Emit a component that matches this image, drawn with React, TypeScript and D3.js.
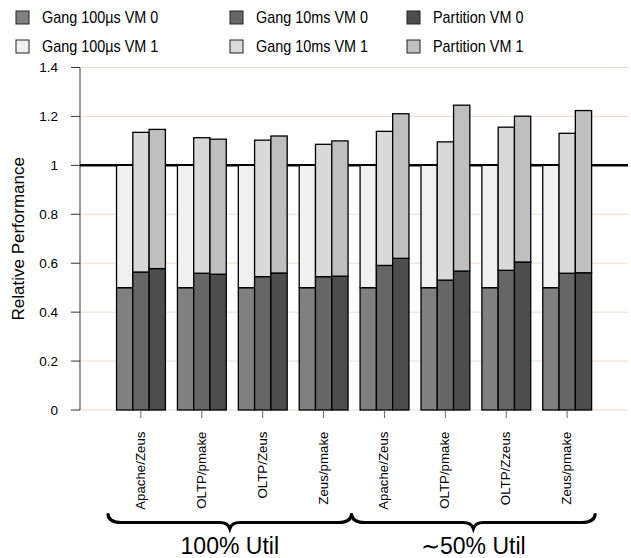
import React from "react";
import * as d3 from "d3";

// Workload pairs along the x axis (two utilisation regimes of four pairs each)
const categories = [
  "Apache/Zeus", "OLTP/pmake", "OLTP/Zeus", "Zeus/pmake",
  "Apache/Zeus", "OLTP/pmake", "OLTP/Zzeus", "Zeus/pmake",
];
const regimes = ["100% Util", "\u223C50% Util"];

// Stacked values per scheduling scheme: VM 0 at the bottom, VM 1 stacked on top
const gang100usVM0 = [0.5, 0.5, 0.5, 0.5, 0.5, 0.5, 0.5, 0.5];
const gang100usVM1 = [0.5, 0.5, 0.5, 0.5, 0.5, 0.5, 0.5, 0.5];
const gang10msVM0 = [0.564, 0.559, 0.545, 0.545, 0.591, 0.531, 0.571, 0.559];
const gang10msVM1 = [0.571, 0.554, 0.558, 0.541, 0.548, 0.565, 0.585, 0.572];
const partitionVM0 = [0.578, 0.555, 0.56, 0.547, 0.62, 0.568, 0.605, 0.561];
const partitionVM1 = [0.569, 0.552, 0.56, 0.553, 0.591, 0.678, 0.596, 0.663];

const yTicks = [0, 0.2, 0.4, 0.6, 0.8, 1, 1.2, 1.4];

const schemes = [
  { name: "Gang 100\u00B5s", vm0: gang100usVM0, vm1: gang100usVM1, c0: "#808080", c1: "#f0f0f0" },
  { name: "Gang 10ms", vm0: gang10msVM0, vm1: gang10msVM1, c0: "#666666", c1: "#d9d9d9" },
  { name: "Partition", vm0: partitionVM0, vm1: partitionVM1, c0: "#4d4d4d", c1: "#bfbfbf" },
];

const W = 631;
const H = 558;
const FONT = "'Liberation Sans', Arial, Helvetica, sans-serif";

export default function App() {
  // index units: groups sit at 0..7, axis spans one slot beyond on each side
  const x = d3.scaleLinear().domain([-1, 8]).range([80, 628]);
  const y = d3.scaleLinear().domain([0, 1.4]).range([410, 67.5]);
  const barW = 0.2675;
  const groupHalf = 0.4;

  const legendCols = [16, 230, 407];
  const legendRows = [11, 40];

  const bracePath = (i0: number, i1: number) => {
    const x0 = x(i0);
    const x1 = x(i1);
    const m = (x0 + x1) / 2;
    const y0 = 522.5;
    const p = d3.path();
    p.moveTo(x0, y0 - 8);
    p.quadraticCurveTo(x0 + 1, y0, x0 + 13, y0);
    p.lineTo(m - 10, y0);
    p.quadraticCurveTo(m - 2, y0, m, y0 + 6);
    p.quadraticCurveTo(m + 2, y0, m + 10, y0);
    p.lineTo(x1 - 13, y0);
    p.quadraticCurveTo(x1 - 1, y0, x1, y0 - 8);
    return p.toString();
  };

  return (
    <svg
      width={W}
      height={H}
      style={{ position: "absolute", left: 0, top: 0, background: "#fff" }}
      fontFamily={FONT}
    >
      {/* legend */}
      {schemes.map((s, ci) =>
        [0, 1].map((vm) => (
          <g key={`lg-${ci}-${vm}`}>
            <rect
              x={legendCols[ci]}
              y={legendRows[vm]}
              width={13}
              height={13}
              fill={vm === 0 ? s.c0 : s.c1}
              stroke="#222"
              strokeWidth={1}
            />
            <text
              transform={`translate(${legendCols[ci] + 26},${legendRows[vm] + 11.5}) scale(0.9,1)`}
              fontSize={16}
              fill="#000"
            >
              {`${s.name} VM ${vm}`}
            </text>
          </g>
        ))
      )}

      {/* grid */}
      {yTicks.map((t) => (
        <line key={`g-${t}`} x1={x(-1)} x2={x(8)} y1={y(t)} y2={y(t)} stroke="#f0dccd" strokeWidth={1} />
      ))}

      {/* y axis */}
      <line x1={80} x2={80} y1={y(1.4)} y2={y(0)} stroke="#777" strokeWidth={1.5} />
      {yTicks.map((t) => (
        <g key={`yt-${t}`}>
          <line x1={71} x2={80} y1={y(t)} y2={y(t)} stroke="#333" strokeWidth={1} />
          <text x={58} y={y(t)} dy="0.36em" textAnchor="end" fontSize={13.5}>
            {d3.format("~g")(t)}
          </text>
        </g>
      ))}
      <text
        transform={`translate(24,${y(0.7)}) rotate(-90)`}
        textAnchor="middle"
        fontSize={17}
      >
        Relative Performance
      </text>

      {/* reference line at 1 */}
      <line x1={x(-1)} x2={x(8)} y1={y(1)} y2={y(1)} stroke="#000" strokeWidth={2.5} />

      {/* bars */}
      {categories.map((_, gi) =>
        schemes.map((s, si) => {
          const bx = x(gi - groupHalf + si * barW);
          const bw = x(barW) - x(0);
          const v0 = s.vm0[gi];
          const v1 = s.vm1[gi];
          return (
            <g key={`b-${gi}-${si}`}>
              <rect x={bx} y={y(v0)} width={bw} height={y(0) - y(v0)} fill={s.c0} stroke="#000" strokeWidth={1.3} />
              <rect x={bx} y={y(v0 + v1)} width={bw} height={y(v0) - y(v0 + v1)} fill={s.c1} stroke="#000" strokeWidth={1.3} />
            </g>
          );
        })
      )}

      {/* x ticks and labels */}
      {categories.map((c, gi) => (
        <g key={`xt-${gi}`}>
          <line x1={x(gi)} x2={x(gi)} y1={410} y2={418} stroke="#666" strokeWidth={1} />
          <text
            transform={`translate(${x(gi) + 4},431.5) rotate(-90)`}
            textAnchor="end"
            fontSize={13.3}
          >
            {c}
          </text>
        </g>
      ))}

      {/* regime braces */}
      {regimes.map((r, ri) => {
        const i0 = ri * 4 - 0.54;
        const i1 = ri * 4 + 3.46;
        return (
          <g key={`br-${ri}`}>
            <path d={bracePath(i0, i1)} fill="none" stroke="#000" strokeWidth={3.2} strokeLinecap="round" />
            <text x={(x(i0) + x(i1)) / 2} y={554} textAnchor="middle" fontSize={23}>
              {r}
            </text>
          </g>
        );
      })}
    </svg>
  );
}
